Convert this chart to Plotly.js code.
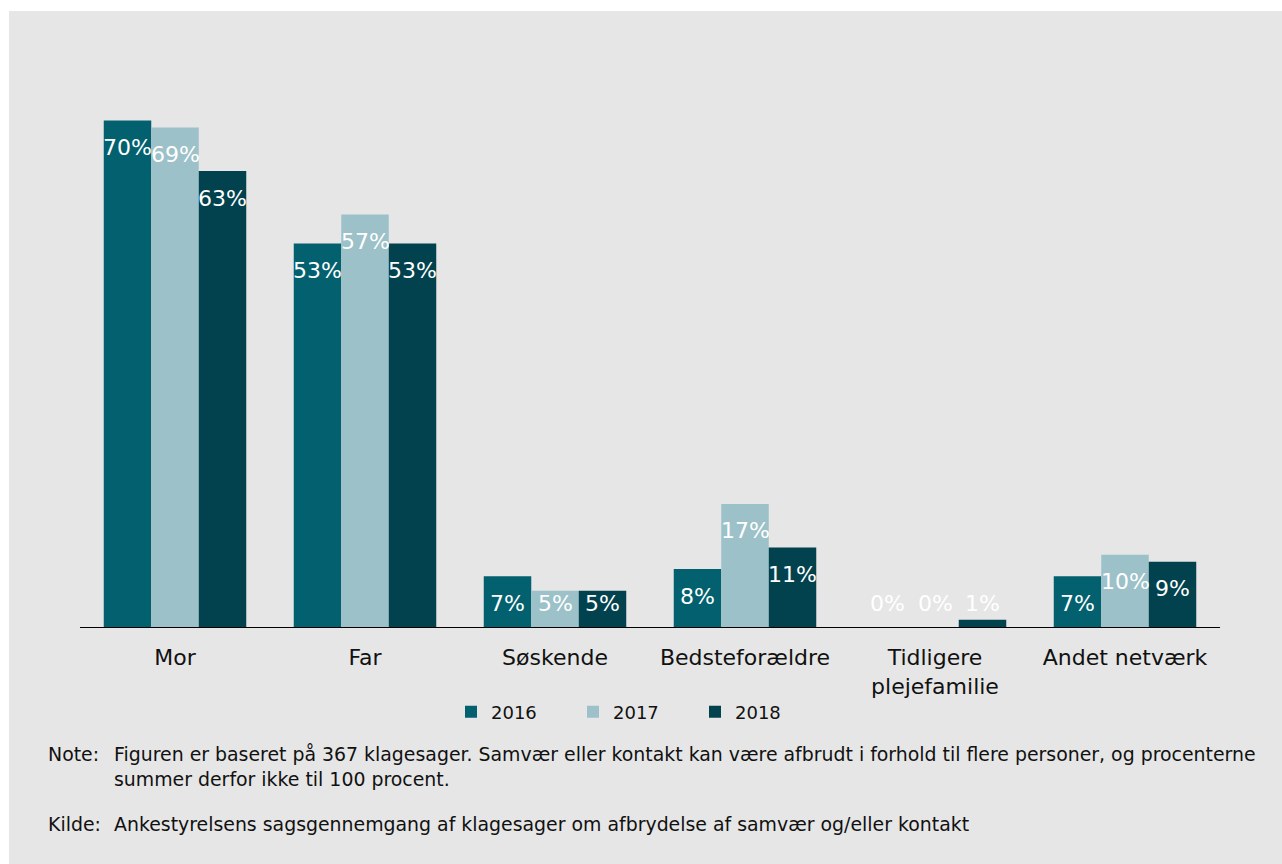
<!DOCTYPE html>
<html>
<head>
<meta charset="utf-8">
<script src="https://cdn.plot.ly/plotly-3.0.1.min.js"></script>
<style>
  html, body { margin: 0; padding: 0; background: #ffffff; width: 1282px; height: 864px; overflow: hidden; }
  #chart { position: absolute; left: 9px; top: 11px; width: 1273px; height: 853px; }
</style>
</head>
<body>
<div id="chart"></div>
<script>
const categories = ['Mor', 'Far', 'Søskende', 'Bedsteforældre', 'Tidligere<br>plejefamilie', 'Andet netværk'];
const years = ['2016', '2017', '2018'];
const values2016 = [70, 53, 7, 8, 0, 7];
const values2017 = [69, 57, 5, 17, 0, 10];
const values2018 = [63, 53, 5, 11, 1, 9];
const colors = ['#03616f', '#9cc1c8', '#02424e'];
const noteLines = [
  'Figuren er baseret på 367 klagesager. Samvær eller kontakt kan være afbrudt i forhold til flere personer, og procenterne',
  'summer derfor ikke til 100 procent.'
];
const sourceText = 'Ankestyrelsens sagsgennemgang af klagesager om afbrydelse af samvær og/eller kontakt';

const series = [values2016, values2017, values2018];
const FONT = 'DejaVu Sans, Verdana, sans-serif';
const TXT = '#111111';

const traces = series.map((vals, i) => ({
  type: 'bar',
  name: years[i],
  x: categories,
  y: vals,
  marker: { color: colors[i], line: { width: 0 } },
  hoverinfo: 'none'
}));

// pixel geometry of plot area (relative to div)
const L = 71, R = 62, T = 37, B = 237;
const W = 1273, H = 853;
const plotW = W - L - R, plotH = H - T - B;
const yMax = 80;
const pxPerUnit = plotH / yMax;
const catW = plotW / categories.length;
const barW = catW * 0.75 / 3;

const annotations = [];
series.forEach((vals, i) => {
  vals.forEach((v, j) => {
    const yl = Math.max(v - 27 / pxPerUnit, 24 / pxPerUnit);
    annotations.push({
      x: categories[j], y: yl, xref: 'x', yref: 'y',
      xshift: (i - 1) * barW,
      text: v + '%', showarrow: false,
      xanchor: 'center', yanchor: 'middle',
      font: { family: FONT, size: 22, color: '#ffffff' }
    });
  });
});

// paper coords helper (page pixels)
const px = p => (p - 9 - L) / plotW;
const py = p => (H - B - (p - 11)) / plotH;
const NOTE = 18.9;

annotations.push({ xref: 'paper', yref: 'paper', x: px(46), y: py(754), xanchor: 'left', yanchor: 'middle',
  text: 'Note:', showarrow: false, font: { family: FONT, size: NOTE, color: TXT } });
noteLines.forEach((t, k) => {
  annotations.push({ xref: 'paper', yref: 'paper', x: px(112), y: py(754 + 25 * k), xanchor: 'left', yanchor: 'middle',
    text: t, showarrow: false, font: { family: FONT, size: NOTE, color: TXT } });
});
annotations.push({ xref: 'paper', yref: 'paper', x: px(46), y: py(824), xanchor: 'left', yanchor: 'middle',
  text: 'Kilde:', showarrow: false, font: { family: FONT, size: NOTE, color: TXT } });
annotations.push({ xref: 'paper', yref: 'paper', x: px(112), y: py(824), xanchor: 'left', yanchor: 'middle',
  text: sourceText, showarrow: false, font: { family: FONT, size: NOTE, color: TXT } });

const layout = {
  width: W, height: H,
  margin: { l: L, r: R, t: T, b: B, pad: 0 },
  paper_bgcolor: '#e6e6e6',
  plot_bgcolor: 'rgba(0,0,0,0)',
  barmode: 'group',
  bargap: 0.25,
  bargroupgap: 0,
  font: { family: FONT, size: 22, color: TXT },
  showlegend: true,
  legend: {
    orientation: 'h',
    x: px(451), xanchor: 'left',
    y: py(712), yanchor: 'middle',
    bgcolor: 'rgba(0,0,0,0)',
    font: { family: FONT, size: 18, color: TXT },
    entrywidth: 77,
    itemwidth: 30,
    traceorder: 'normal'
  },
  xaxis: {
    type: 'category',
    showline: true, linecolor: '#000000', linewidth: 1,
    ticks: '', showgrid: false, zeroline: false,
    ticklabelstandoff: 11,
    tickfont: { family: FONT, size: 22, color: TXT },
    fixedrange: true
  },
  yaxis: {
    range: [0, yMax],
    showticklabels: false, showgrid: false, zeroline: false, showline: false,
    ticks: '', fixedrange: true
  },
  annotations: annotations
};

Plotly.newPlot('chart', traces, layout, { displayModeBar: false, staticPlot: true });
</script>
</body>
</html>
